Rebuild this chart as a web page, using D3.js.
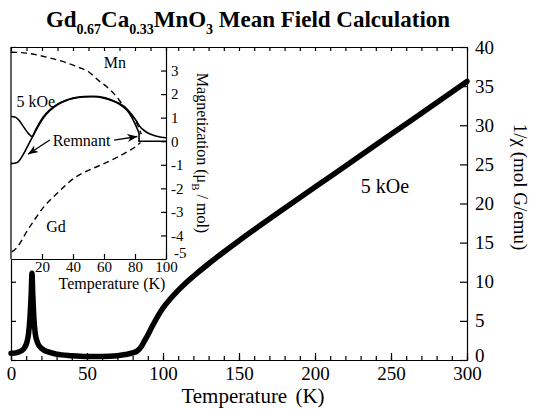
<!DOCTYPE html>
<html>
<head>
<meta charset="utf-8">
<script src="https://cdn.jsdelivr.net/npm/d3@7"></script>
<style>
  body { margin: 0; background: #fff; }
  svg text { font-family: "Liberation Serif", "Times New Roman", serif; fill: #000; }
  .axis path, .axis line { stroke: #000; stroke-width: 1.2; }
</style>
</head>
<body>
<svg id="chart" width="533" height="409"></svg>
<script>
// main plot: 1/chi vs temperature at 5 kOe
const mainT = [0, 4, 7, 9, 10.5, 11.5, 12.5, 13.3, 13.8, 14.3, 15, 16, 17.5, 20, 25, 30, 40, 50, 60, 70, 75, 80, 83, 86, 88, 90, 92, 95, 100, 105, 110, 115, 120, 130, 140, 150, 165, 180, 200, 225, 250, 275, 300];
const mainInvChi = [0.85, 0.95, 1.2, 1.6, 2.3, 3.3, 5.5, 8.5, 11.1, 8.5, 5.5, 3.3, 2.2, 1.5, 1.0, 0.75, 0.55, 0.45, 0.45, 0.55, 0.7, 0.9, 1.15, 1.8, 2.5, 3.2, 3.95, 5.05, 6.65, 7.85, 8.9, 9.85, 10.7, 12.3, 13.8, 15.25, 17.35, 19.4, 22.1, 25.45, 28.85, 32.2, 35.6];

// inset: magnetization vs temperature
const fieldT = [0, 2.5, 5, 8, 11, 13.5, 16, 21, 25, 30, 35, 40, 47, 53, 60, 66, 70, 75, 78, 81, 83, 85, 88, 91, 94, 97, 100];
const fieldM = [1.05, 1.03, 0.9, 0.62, 0.35, 0.2, 0.5, 1.05, 1.33, 1.57, 1.73, 1.83, 1.9, 1.91, 1.85, 1.72, 1.6, 1.36, 1.12, 0.85, 0.64, 0.5, 0.36, 0.27, 0.21, 0.17, 0.15];
const remT = [0, 4, 8, 10, 12, 14, 16, 21, 25, 30, 35, 40, 47, 53, 60, 66, 70, 75, 78, 81, 82.6];
const remM = [-0.95, -0.9, -0.55, -0.3, -0.05, 0.2, 0.45, 1.0, 1.3, 1.55, 1.71, 1.81, 1.88, 1.89, 1.83, 1.7, 1.57, 1.3, 1.0, 0.6, 0.35];
const remTailT = [82.6, 82.6, 100];
const remTailM = [0.35, 0, 0];
const mnT = [0, 10, 23, 35, 44, 50, 57, 62, 68, 72, 76, 79, 82, 84];
const mnM = [3.78, 3.74, 3.57, 3.35, 3.13, 2.95, 2.55, 2.3, 1.9, 1.55, 1.25, 1.0, 0.65, 0.3];
const gdT = [0.5, 4, 7, 10, 14, 21, 30, 40, 53, 60, 68, 75, 81, 83.5];
const gdM = [-4.7, -4.5, -4.2, -3.85, -3.45, -2.8, -2.2, -1.6, -1.15, -0.95, -0.7, -0.45, -0.2, -0.05];

const mainXTicks = [0, 50, 100, 150, 200, 250, 300];
const mainYTicks = [0, 5, 10, 15, 20, 25, 30, 35, 40];
const insetXTicks = [20, 40, 60, 80, 100];
const insetYTicks = [-5, -4, -3, -2, -1, 0, 1, 2, 3];

const svg = d3.select("#chart");

const x = d3.scaleLinear().domain([0, 300]).range([11, 467]);
const y = d3.scaleLinear().domain([0, 40]).range([360, 47]);
const xi = d3.scaleLinear().domain([0, 100]).range([11, 166]);
const yi = d3.scaleLinear().domain([-5, 4]).range([259, 47]);

const zip = (a, b) => a.map((v, i) => [v, b[i]]);
const plain = d => String(d); // hyphen minus like the original

// title
const title = svg.append("text")
  .attr("x", 248).attr("y", 27)
  .attr("text-anchor", "middle")
  .style("font-size", "23px").style("font-weight", "bold");
title.append("tspan").text("Gd");
title.append("tspan").attr("dy", 7).style("font-size", "14px").text("0.67");
title.append("tspan").attr("dy", -7).text("Ca");
title.append("tspan").attr("dy", 7).style("font-size", "14px").text("0.33");
title.append("tspan").attr("dy", -7).text("MnO");
title.append("tspan").attr("dy", 7).style("font-size", "14px").text("3");
title.append("tspan").attr("dy", -7).text(" Mean Field Calculation");

// main axes
const gx = svg.append("g").attr("class", "axis").attr("transform", "translate(0,360)");
gx.call(d3.axisBottom(x).tickValues(d3.range(0, 301, 10)).tickSize(-4).tickSizeOuter(0).tickFormat(""));
const gx2 = svg.append("g").attr("class", "axis").attr("transform", "translate(0,360)");
gx2.call(d3.axisBottom(x).tickValues(mainXTicks).tickSize(-7).tickSizeOuter(0).tickPadding(7).tickFormat(plain));
gx2.selectAll("text").style("font-size", "19px");

svg.append("g").attr("class", "axis").attr("transform", "translate(0,47)")
  .call(d3.axisTop(x).tickValues(d3.range(0, 301, 10)).tickSize(-4).tickSizeOuter(0).tickFormat(""));

const gy = svg.append("g").attr("class", "axis").attr("transform", "translate(467,0)");
gy.call(d3.axisRight(y).tickValues(mainYTicks).tickSize(-7).tickSizeOuter(0).tickPadding(8).tickFormat(plain));
gy.selectAll("text").style("font-size", "19px");
gy.selectAll(".tick").filter(d => d === 0).select("text").attr("dy", "0.1em");

svg.append("g").attr("class", "axis").attr("transform", "translate(11,0)")
  .call(d3.axisLeft(y).tickValues(mainYTicks).tickSize(-5).tickSizeOuter(0).tickFormat(""));

// main curve
const line = d3.line().x(d => x(d[0])).y(d => y(d[1])).curve(d3.curveMonotoneX);
svg.append("path")
  .attr("d", line(zip(mainT, mainInvChi)))
  .attr("fill", "none").attr("stroke", "#000").attr("stroke-width", 5.5)
  .attr("stroke-linejoin", "round").attr("stroke-linecap", "round");

svg.append("text").attr("x", 385).attr("y", 193).attr("text-anchor", "middle")
  .style("font-size", "20px").text("5 kOe");

svg.append("text").attr("x", 253).attr("y", 403).attr("text-anchor", "middle")
  .style("font-size", "21px").style("word-spacing", "3px").text("Temperature (K)");

svg.append("text")
  .attr("transform", "translate(514,187) rotate(90)")
  .attr("text-anchor", "middle").style("font-size", "19px")
  .text("1/\u03c7 (mol G/emu)");

// inset
const inset = svg.append("g");
inset.append("rect").attr("x", 11).attr("y", 47).attr("width", 155).attr("height", 212).attr("fill", "#fff");

inset.append("g").attr("class", "axis").attr("transform", "translate(0,47)")
  .call(d3.axisTop(xi).tickValues(d3.range(0, 101, 10)).tickSize(-4).tickSizeOuter(0).tickFormat(""));
const gxi = inset.append("g").attr("class", "axis").attr("transform", "translate(0,259)");
gxi.call(d3.axisBottom(xi).tickValues(insetXTicks).tickSize(-5).tickSizeOuter(0).tickPadding(2).tickFormat(plain));
gxi.selectAll("text").style("font-size", "15px");
inset.append("line").attr("x1", 11).attr("x2", 11).attr("y1", 47).attr("y2", 259)
  .attr("stroke", "#000").attr("stroke-width", 1.2);

const gyi = inset.append("g").attr("class", "axis").attr("transform", "translate(166,0)");
gyi.call(d3.axisRight(yi).tickValues(insetYTicks).tickSize(-5).tickSizeOuter(0).tickPadding(5).tickFormat(plain));
gyi.selectAll("text").style("font-size", "15px");
gyi.selectAll(".tick").filter(d => d === -5).select("text").attr("dy", "-0.12em").attr("x", 8);

const iline = d3.line().x(d => xi(d[0])).y(d => yi(d[1])).curve(d3.curveMonotoneX);
const straight = d3.line().x(d => xi(d[0])).y(d => yi(d[1]));

inset.append("path").attr("d", iline(zip(mnT, mnM)))
  .attr("fill", "none").attr("stroke", "#000").attr("stroke-width", 1.4).attr("stroke-dasharray", "6,4");
inset.append("path").attr("d", iline(zip(gdT, gdM)))
  .attr("fill", "none").attr("stroke", "#000").attr("stroke-width", 1.4).attr("stroke-dasharray", "6,4");
inset.append("path").attr("d", iline(zip(fieldT, fieldM)))
  .attr("fill", "none").attr("stroke", "#000").attr("stroke-width", 1.6);
inset.append("path").attr("d", iline(zip(remT, remM)))
  .attr("fill", "none").attr("stroke", "#000").attr("stroke-width", 1.6);
inset.append("path").attr("d", straight(zip(remTailT, remTailM)))
  .attr("fill", "none").attr("stroke", "#000").attr("stroke-width", 1.6);

// inset labels
inset.append("text").attr("x", xi(67)).attr("y", yi(3.1)).attr("text-anchor", "middle")
  .style("font-size", "16px").text("Mn");
inset.append("text").attr("x", xi(16)).attr("y", yi(1.45)).attr("text-anchor", "middle")
  .style("font-size", "16px").text("5 kOe");
inset.append("text").attr("x", xi(29)).attr("y", yi(-3.85)).attr("text-anchor", "middle")
  .style("font-size", "16px").text("Gd");
inset.append("text").attr("x", xi(45.5)).attr("y", yi(-0.2)).attr("text-anchor", "middle")
  .style("font-size", "16px").text("Remnant");

svg.append("defs").append("marker")
  .attr("id", "arrow").attr("viewBox", "0 0 10 8").attr("refX", 10).attr("refY", 4)
  .attr("markerWidth", 10).attr("markerHeight", 8).attr("markerUnits", "userSpaceOnUse")
  .attr("orient", "auto")
  .append("path").attr("d", "M0,0 L10,4 L0,8 L3,4 Z").attr("fill", "#000");

inset.append("line")
  .attr("x1", xi(25)).attr("y1", yi(0.05)).attr("x2", xi(11)).attr("y2", yi(-0.55))
  .attr("stroke", "#000").attr("stroke-width", 1.3).attr("marker-end", "url(#arrow)");
inset.append("line")
  .attr("x1", xi(66.5)).attr("y1", yi(0.05)).attr("x2", xi(81.5)).attr("y2", yi(0.2))
  .attr("stroke", "#000").attr("stroke-width", 1.3).attr("marker-end", "url(#arrow)");

// inset axis titles
inset.append("text").attr("x", 112).attr("y", 289).attr("text-anchor", "middle")
  .style("font-size", "16px").text("Temperature (K)");
const mt = inset.append("text")
  .attr("transform", "translate(197,153) rotate(90)")
  .attr("text-anchor", "middle").style("font-size", "16px");
mt.append("tspan").text("Magnetization (\u03bc");
mt.append("tspan").attr("dy", 5).style("font-size", "11px").text("B");
mt.append("tspan").attr("dy", -5).text(" / mol)");
</script>
</body>
</html>
